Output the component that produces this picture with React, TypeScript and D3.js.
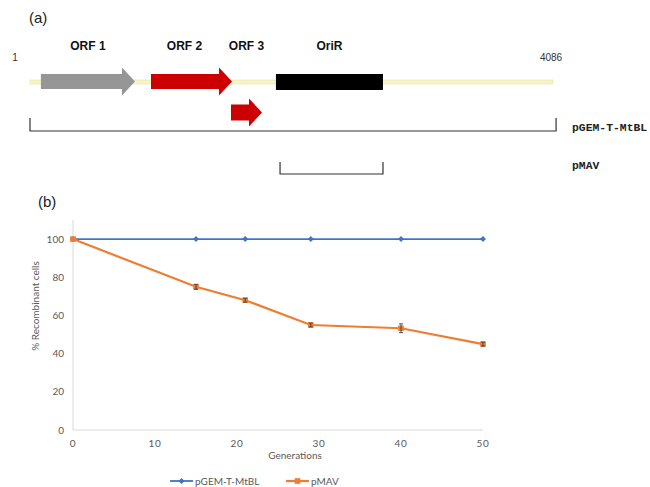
import React from "react";
import * as d3 from "d3";

// ---------- Panel (a) data ----------
const plasmidLength = 4086;
const featureNames = ["ORF 1", "ORF 2", "ORF 3", "OriR"];
const featureStarts = [86, 946, 1571, 1922];
const featureEnds = [821, 1579, 1813, 2758];
const featureKinds = ["arrow", "arrow", "arrowLow", "box"];
const featureColors = ["#969696", "#cc0000", "#cc0000", "#000000"];
const constructNames = ["pGEM-T-MtBL", "pMAV"];
const constructStarts = [1, 1954];
const constructEnds = [4110, 2758];

// ---------- Panel (b) data ----------
const generations = [0, 15, 21, 29, 40, 50];
const pgemValues = [100, 100, 100, 100, 100, 100];
const pmavValues = [100, 75, 68, 55, 53.3, 45];
const pmavErrors = [0, 1.3, 1.0, 1.0, 2.3, 1.0];
const yTicks = [0, 20, 40, 60, 80, 100];
const xTicks = [0, 10, 20, 30, 40, 50];
const seriesNames = ["pGEM-T-MtBL", "pMAV"];

const BLUE = "#4472c4";
const ORANGE = "#ed7d31";
const GRAY_TXT = "#595959";
const SANS = "'Liberation Sans', Arial, sans-serif";
const XLFONT = "Lato, 'Open Sans', sans-serif";

export default function App() {
  // panel (a) scale
  const bx = d3.scaleLinear().domain([1, plasmidLength]).range([30, 553]);
  const head = 13;

  const arrowPath = (x0: number, x1: number, cy: number, bh: number, hh: number) => {
    const hx = x1 - head;
    return `M${x0},${cy - bh / 2}L${hx},${cy - bh / 2}L${hx},${cy - hh / 2}L${x1},${cy}L${hx},${cy + hh / 2}L${hx},${cy + bh / 2}L${x0},${cy + bh / 2}Z`;
  };

  // panel (b) scales
  const x = d3.scaleLinear().domain([0, 50]).range([73, 483]);
  const y = d3.scaleLinear().domain([0, 110]).range([430, 220]);
  const line = d3
    .line<number>()
    .x((_, i) => x(generations[i]))
    .y((v) => y(v));

  return (
    <svg width={650} height={487} style={{ position: "absolute", left: 0, top: 0, background: "#fff" }}>
      <rect x={0} y={0} width={650} height={487} fill="#fff" />
      {/* ---------- (a) ---------- */}
      <text x={29} y={23} fontFamily={SANS} fontSize={15} fill="#222">(a)</text>
      <text x={15} y={61} fontFamily={SANS} fontSize={10} fill="#333" textAnchor="middle">1</text>
      <text x={bx(plasmidLength) - 2} y={61} fontFamily={SANS} fontSize={10} fill="#333" textAnchor="middle">
        {plasmidLength}
      </text>
      <rect x={bx(1)} y={80} width={bx(plasmidLength) - bx(1)} height={4} fill="#f8f6c6" stroke="#e6e2a6" strokeWidth={0.6} />
      {featureNames.map((name, i) => {
        const x0 = bx(featureStarts[i]);
        const x1 = bx(featureEnds[i]);
        const kind = featureKinds[i];
        let shape;
        if (kind === "box") {
          shape = <rect x={x0} y={74} width={x1 - x0} height={16} fill={featureColors[i]} />;
        } else if (kind === "arrow") {
          shape = <path d={arrowPath(x0, x1, 81.5, 15, 28)} fill={featureColors[i]} />;
        } else {
          shape = <path d={arrowPath(x0, x1, 112.5, 16, 28)} fill={featureColors[i]} />;
        }
        return (
          <g key={name}>
            {shape}
            <text
              x={(x0 + x1) / 2 - (i === 1 ? 7 : 0)}
              y={50}
              fontFamily={SANS}
              fontWeight="bold"
              fontSize={12}
              fill="#111"
              textAnchor="middle"
            >
              {name}
            </text>
          </g>
        );
      })}
      {constructNames.map((name, i) => {
        const x0 = bx(constructStarts[i]);
        const x1 = bx(constructEnds[i]);
        const top = i === 0 ? 118 : 162;
        const bot = i === 0 ? 131 : 174;
        return (
          <g key={name}>
            <path d={`M${x0},${top}L${x0},${bot}L${x1},${bot}L${x1},${top}`} fill="none" stroke="#333" strokeWidth={1.2} />
            <text
              x={572}
              y={i === 0 ? 131 : 169}
              fontFamily="'Liberation Mono', 'Courier New', monospace"
              fontWeight="bold"
              fontSize={11.4}
              fill="#222"
            >
              {name}
            </text>
          </g>
        );
      })}

      {/* ---------- (b) ---------- */}
      <text x={38} y={207} fontFamily={SANS} fontSize={15} fill="#222">(b)</text>
      <line x1={x(0)} x2={x(0)} y1={220} y2={y(0)} stroke="#d9d9d9" strokeWidth={1} />
      <line x1={x(0)} x2={x(50)} y1={y(0)} y2={y(0)} stroke="#d9d9d9" strokeWidth={1} />
      {yTicks.map((t) => (
        <text key={"y" + t} x={64} y={y(t) + 3.5} fontFamily={XLFONT} fontSize={10} fill={GRAY_TXT} textAnchor="end">
          {t}
        </text>
      ))}
      {xTicks.map((t) => (
        <text key={"x" + t} x={x(t)} y={447} fontFamily={XLFONT} fontSize={10} fill={GRAY_TXT} textAnchor="middle" letterSpacing={0.8}>
          {t}
        </text>
      ))}
      <text x={295} y={459} fontFamily={XLFONT} fontSize={10} fill={GRAY_TXT} textAnchor="middle">
        Generations
      </text>
      <text
        transform={`translate(39,306) rotate(-90)`}
        fontFamily={XLFONT}
        fontSize={10}
        fill={GRAY_TXT}
        textAnchor="middle"
      >
        % Recombinant cells
      </text>

      {/* pGEM line */}
      <path d={line(pgemValues) || ""} fill="none" stroke={BLUE} strokeWidth={1.8} />
      {pgemValues.map((v, i) => {
        const cx = x(generations[i]);
        const cy = y(v);
        return <path key={"d" + i} d={`M${cx},${cy - 3}L${cx + 3},${cy}L${cx},${cy + 3}L${cx - 3},${cy}Z`} fill={BLUE} />;
      })}

      {/* pMAV line */}
      <path d={line(pmavValues) || ""} fill="none" stroke={ORANGE} strokeWidth={2.2} />
      {pmavValues.map((v, i) => {
        const cx = x(generations[i]);
        const cy = y(v);
        const e = pmavErrors[i];
        return (
          <g key={"s" + i}>
            <rect x={cx - 2.8} y={cy - 2.8} width={5.6} height={5.6} fill={ORANGE} />
            {e > 0 && (
              <g stroke="#404040" strokeWidth={0.9}>
                <line x1={cx} x2={cx} y1={y(v + e)} y2={y(v - e)} />
                <line x1={cx - 2} x2={cx + 2} y1={y(v + e)} y2={y(v + e)} />
                <line x1={cx - 2} x2={cx + 2} y1={y(v - e)} y2={y(v - e)} />
              </g>
            )}
          </g>
        );
      })}

      {/* legend */}
      <line x1={170} x2={193} y1={481} y2={481} stroke={BLUE} strokeWidth={1.8} />
      <path d="M181.5,478L184.5,481L181.5,484L178.5,481Z" fill={BLUE} />
      <text x={195} y={484.5} fontFamily={XLFONT} fontSize={10} fill={GRAY_TXT}>{seriesNames[0]}</text>
      <line x1={286} x2={309} y1={481} y2={481} stroke={ORANGE} strokeWidth={2.2} />
      <rect x={294.7} y={478.2} width={5.6} height={5.6} fill={ORANGE} />
      <text x={311} y={484.5} fontFamily={XLFONT} fontSize={10} fill={GRAY_TXT}>{seriesNames[1]}</text>
    </svg>
  );
}
